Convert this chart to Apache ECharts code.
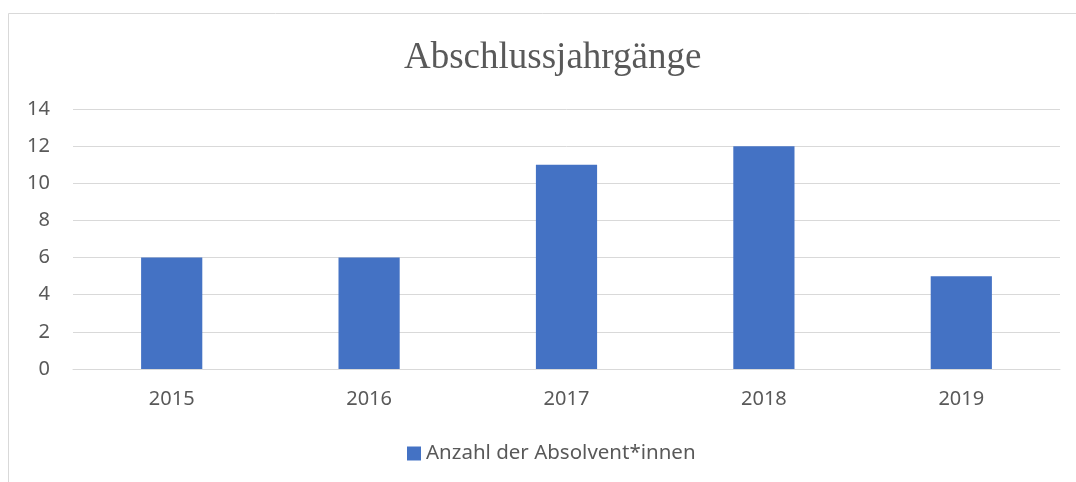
<!DOCTYPE html>
<html lang="de">
<head>
    <meta charset="UTF-8">
    <title>Abschlussjahrgänge</title>
    <style>
        html, body { margin: 0; padding: 0; background: #fff; }
    </style>
</head>
<body>
<div id="main" style="width: 1076px;height:482px;"></div>
<script src="https://cdn.jsdelivr.net/npm/echarts@6/dist/echarts.min.js"></script>
<script>
    // Daten
    var jahre = ['2015', '2016', '2017', '2018', '2019'];
    var absolventen = [6, 6, 11, 12, 5];
    var serienName = 'Anzahl der Absolvent*innen';

    var myChart = echarts.init(document.getElementById('main'));
    var textFont = '"Noto Sans", sans-serif';
    var option = {
        animation: false,
        backgroundColor: '#fff',
        title: {
            text: 'Abschlussjahrgänge',
            left: 399,
            top: 35,
            textStyle: {
                fontFamily: '"Liberation Serif", serif',
                fontWeight: 'normal',
                fontSize: 37,
                color: '#595959'
            }
        },
        graphic: [{
            type: 'rect',
            shape: { x: 8.5, y: 13.5, width: 1200, height: 600 },
            style: { fill: 'none', stroke: '#d9d9d9', lineWidth: 1 },
            silent: true
        }],
        legend: {
            bottom: 13,
            left: 402,
            itemWidth: 14,
            itemHeight: 14,
            itemGap: 10,
            icon: 'rect',
            textStyle: { fontFamily: textFont, fontSize: 20.5, color: '#595959' },
            data: [serienName]
        },
        grid: {
            left: 73,
            right: 16,
            top: 109,
            bottom: 113,
            containLabel: false
        },
        xAxis: {
            type: 'category',
            data: jahre,
            axisLine: { show: true, lineStyle: { color: '#d9d9d9', width: 1 } },
            axisTick: { show: false },
            axisLabel: { fontFamily: textFont, fontSize: 20, color: '#595959', margin: 20 }
        },
        yAxis: {
            type: 'value',
            min: 0,
            max: 14,
            interval: 2,
            axisLine: { show: false },
            axisTick: { show: false },
            splitLine: { lineStyle: { color: '#d9d9d9', width: 1 } },
            axisLabel: { fontFamily: textFont, fontSize: 20, color: '#595959', margin: 23 }
        },
        series: [{
            name: serienName,
            type: 'bar',
            barWidth: '31%',
            data: absolventen,
            itemStyle: { color: '#4472C4' }
        }]
    };
    myChart.setOption(option);
</script>
</body>
</html>
